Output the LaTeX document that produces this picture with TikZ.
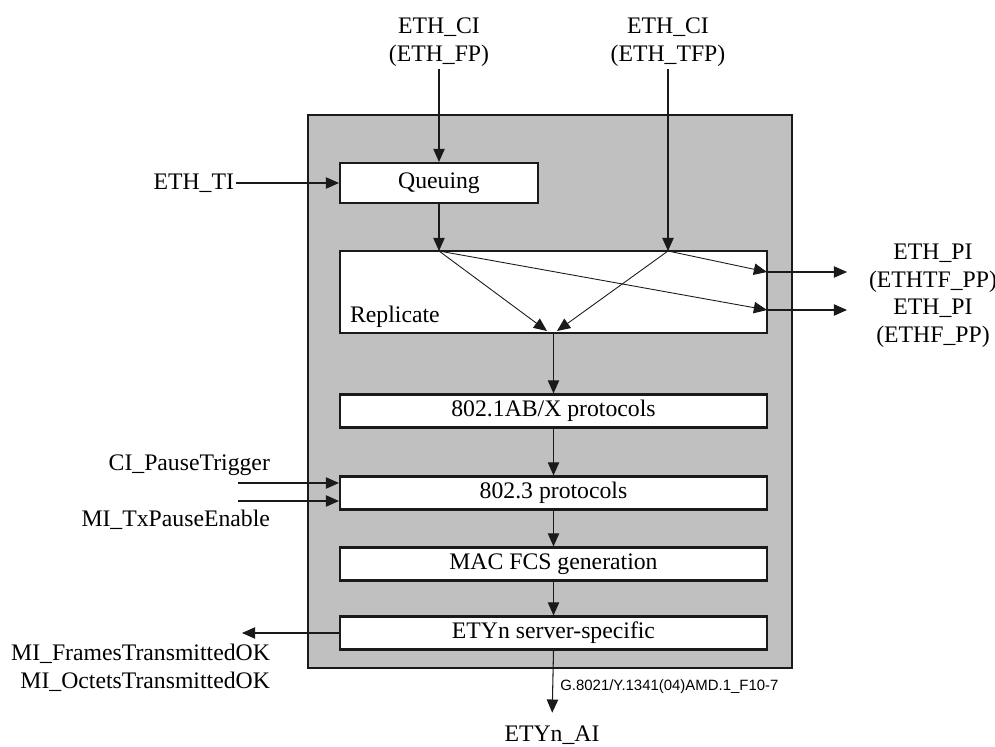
\documentclass[tikz,border=0pt]{standalone}
\usepackage{fontspec}
\setmainfont{Liberation Serif}
\newfontfamily\figsans{Liberation Sans}
\usepackage{tikz}
\usetikzlibrary{arrows.meta,positioning}
\definecolor{shade}{HTML}{C0C0C0}
\definecolor{ink}{HTML}{1A1A1A}
\tikzset{
  blk/.style={rectangle, draw=ink, fill=white, line width=1.2pt, inner sep=0pt,
              minimum width=8.54cm, minimum height=0.66cm, font=\fontsize{13.5}{16}\selectfont},
  lbl/.style={inner sep=1pt, align=center, font=\fontsize{13.5}{16}\selectfont},
  flow/.style={-{Triangle[length=7.5pt, width=6.5pt]}, draw=ink, line width=0.6pt},
  fanflow/.style={flow, line width=0.5pt},
  frame/.style={draw=ink, fill=shade, line width=0.6pt}
}

\begin{document}
\begin{tikzpicture}[x=0.02cm, y=-0.02cm]
  \useasboundingbox (0,0) rectangle (995,747);
  \draw[frame] (308,115) rectangle (792,668);

  \node[blk, minimum width=3.96cm, minimum height=0.8cm] (queue) at (439,183) {Queuing};
  \node[blk, minimum height=1.64cm] (repl) at (553.5,292) {};
  \node[lbl, anchor=base west] (replLbl) at (348,322) {Replicate};
  \node[blk] (abx) at (553.5,411) {802.1AB/X protocols};
  \node[blk] (p8023) at (553.5,493) {802.3 protocols};
  \node[blk] (macfcs) at (553.5,564) {MAC FCS generation};
  \node[blk] (etyn) at (553.5,633) {ETYn server-specific};

  \node[lbl] (ciFP) at (439,42) {ETH\_CI\\(ETH\_FP)};
  \node[lbl] (ciTFP) at (668,42) {ETH\_CI\\(ETH\_TFP)};
  \node[lbl, anchor=east] (ti) at (236,183) {ETH\_TI};
  \node[lbl, anchor=east] (pause) at (272,465) {CI\_PauseTrigger};
  \node[lbl, anchor=east] (txpause) at (272,520) {MI\_TxPauseEnable};
  \node[lbl, align=right, anchor=east] (frames) at (272,668) {MI\_FramesTransmittedOK\\MI\_OctetsTransmittedOK};
  \node[lbl] (piTF) at (933,268) {ETH\_PI\\(ETHTF\_PP)};
  \node[lbl] (piF) at (933,323) {ETH\_PI\\(ETHF\_PP)};
  \node[lbl, anchor=base] (ai) at (552,741) {ETYn\_AI};
  \node[anchor=base west, inner sep=0pt, font=\figsans\fontsize{8.5}{10}\selectfont] (figid) at (560,690) {G.8021/Y.1341(04)AMD.1\_F10-7};

  \coordinate (rin1) at (439,251);
  \coordinate (rin2) at (668,251);
  \coordinate (mrgL) at (547,331);
  \coordinate (mrgR) at (557,331);
  \coordinate (outTF) at (767,272);
  \coordinate (outF) at (767,310);
  \coordinate (tipTF) at (847,272);
  \coordinate (tipF) at (847,310);
  \coordinate (pin1) at (238,483);
  \coordinate (pin2) at (238,501);
  \coordinate (mout) at (242,633);

  \draw[flow] (ciFP.south) -- (queue.north);
  \draw[flow] (ti.east) -- (queue.west);
  \draw[flow] (queue.south) -- (rin1);
  \draw[flow] (ciTFP.south) -- (rin2);
  \draw[fanflow] (rin1) -- (mrgL);
  \draw[fanflow] (rin2) -- (mrgR);
  \draw[fanflow] (rin1) -- (outF);
  \draw[fanflow] (rin2) -- (outTF);
  \draw[flow] (outTF) -- (tipTF);
  \draw[flow] (outF) -- (tipF);
  \draw[flow] (repl.south) -- (abx.north);
  \draw[flow] (abx.south) -- (p8023.north);
  \draw[flow] (p8023.south) -- (macfcs.north);
  \draw[flow] (macfcs.south) -- (etyn.north);
  \draw[flow] (pin1) -- (pin1 -| p8023.west);
  \draw[flow] (pin2) -- (pin2 -| p8023.west);
  \draw[flow] (etyn.west) -- (mout);
  \draw[flow, shorten >=6pt] (etyn.south) -- (ai.north);
\end{tikzpicture}
\end{document}
